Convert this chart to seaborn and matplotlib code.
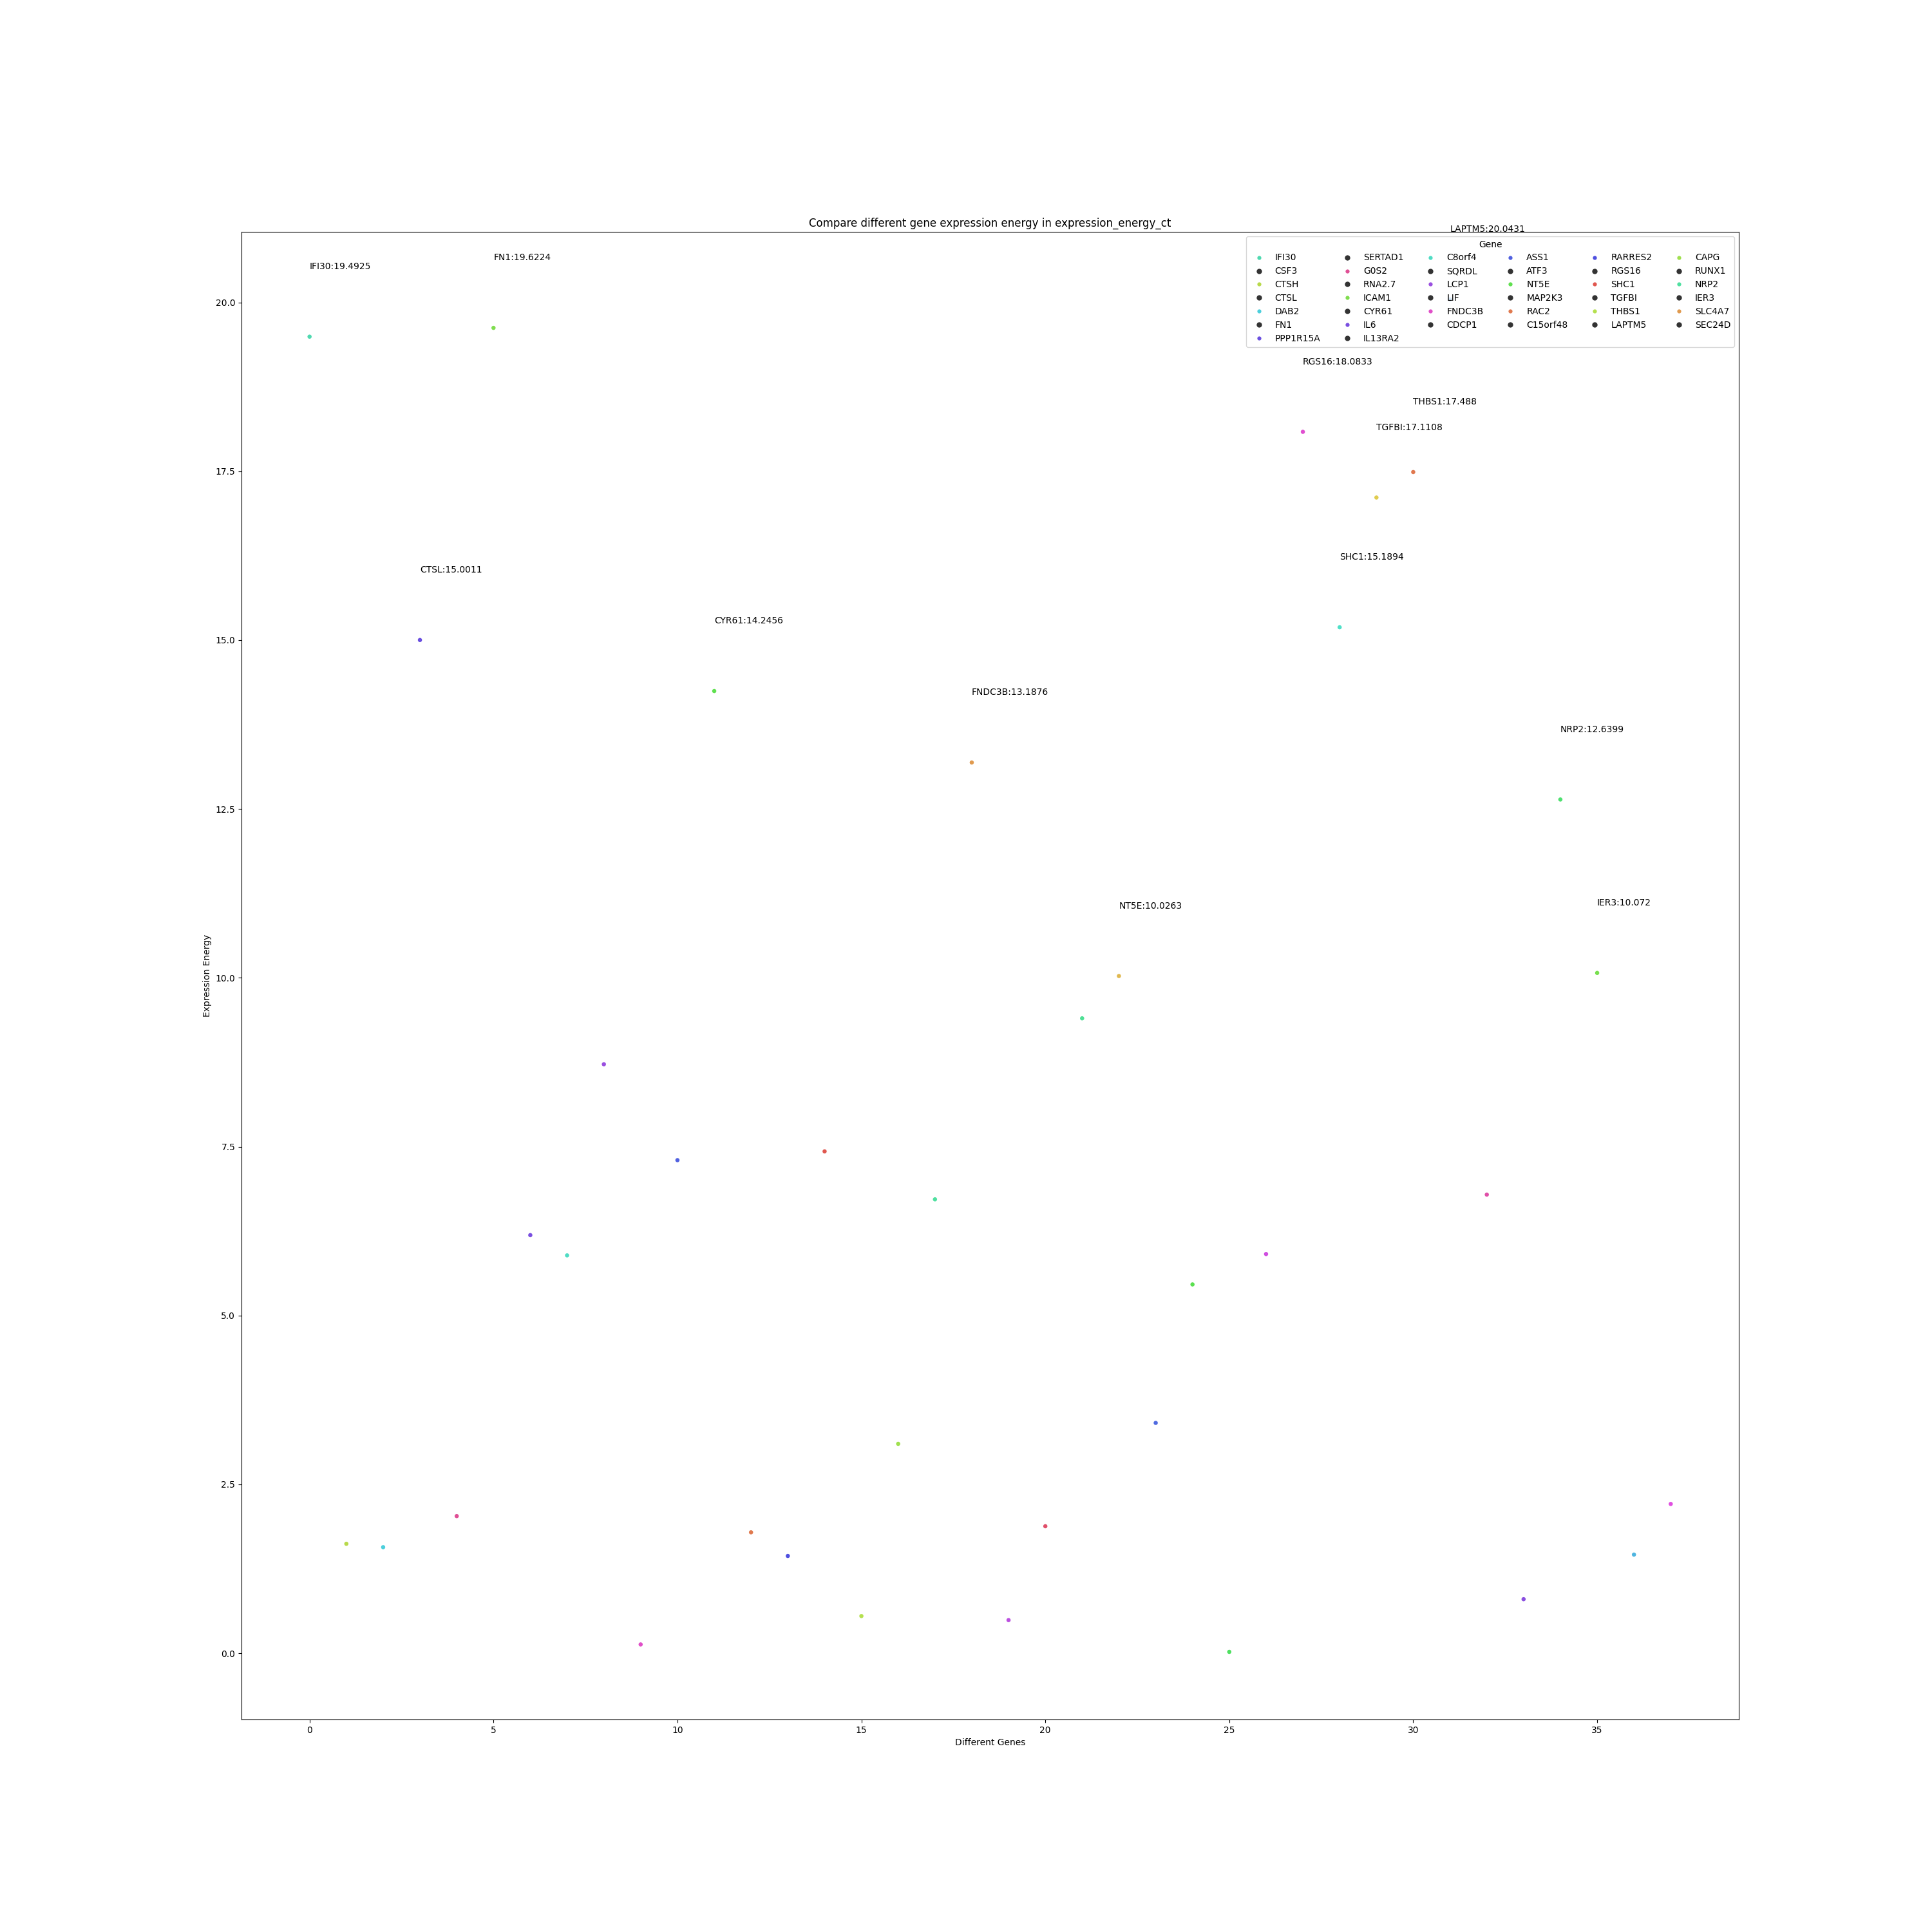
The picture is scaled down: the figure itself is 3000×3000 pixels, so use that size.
import numpy as np
import pandas as pd
import matplotlib
matplotlib.use('Agg')
import matplotlib.pyplot as plt
from matplotlib.lines import Line2D
import seaborn as sns

# gene names in plotting order (x = 0..37)
genes = ['IFI30', 'CSF3', 'CTSH', 'CTSL', 'DAB2', 'FN1', 'PPP1R15A',
         'SERTAD1', 'G0S2', 'RNA2.7', 'ICAM1', 'CYR61', 'IL6', 'IL13RA2',
         'C8orf4', 'SQRDL', 'LCP1', 'LIF', 'FNDC3B', 'CDCP1',
         'ASS1', 'ATF3', 'NT5E', 'MAP2K3', 'RAC2', 'C15orf48',
         'RARRES2', 'RGS16', 'SHC1', 'TGFBI', 'THBS1', 'LAPTM5',
         'CAPG', 'RUNX1', 'NRP2', 'IER3', 'SLC4A7', 'SEC24D']

# expression energy
energy = [19.4925, 1.62, 1.57, 15.0011, 2.03, 19.6224, 6.19,
          5.89, 8.72, 0.13, 7.30, 14.2456, 1.79, 1.44,
          7.43, 0.55, 3.10, 6.72, 13.1876, 0.49,
          1.88, 9.40, 10.0263, 3.41, 5.46, 0.02,
          5.91, 18.0833, 15.1894, 17.1108, 17.488, 20.0431,
          6.79, 0.80, 12.6399, 10.072, 1.46, 2.21]

# one colour per point
point_colors = ['#4fd9b0', '#b8d94a', '#4ccfdc', '#6a4fe0', '#e04f95', '#80dd4f', '#7a4fe0',
                '#4fdcc4', '#9a4fe0', '#e04fc8', '#5060e0', '#5fe04f', '#e07a4f', '#4f50e0',
                '#e0574f', '#b5e04f', '#a0e04f', '#4fe0a0', '#e09a4f', '#bb4fe0',
                '#e04f6a', '#4fe095', '#e0b84f', '#4f6ae0', '#5ae04f', '#4fe060',
                '#d04fe0', '#e04fd0', '#4fe0c8', '#e0cc4f', '#e0784f', '#4f9ae0',
                '#e04fa8', '#8a4fe0', '#4fe070', '#78e04f', '#4fb5e0', '#e04fe0']

data = pd.DataFrame({'Gene': genes, 'Energy': energy})
data['idx'] = np.arange(len(data))

plt.figure(figsize=(30, 30), dpi=100)
ax = sns.scatterplot(x='idx', y='Energy', hue='Gene', data=data,
                     palette=dict(zip(genes, point_colors)), s=22,
                     linewidth=0, legend=False)

# annotate the high ones
for i, row in data.iterrows():
    if row['Energy'] > 10:
        ax.text(row['idx'], row['Energy'] + 1, f"{row['Gene']}:{row['Energy']}")

# legend: handles alternate between a point colour and a dark marker
handles = []
for k in range(len(genes)):
    if k % 2 == 0:
        handles.append(Line2D([], [], ls='', marker='o', markersize=4.5,
                              markerfacecolor=point_colors[k // 2], markeredgewidth=0))
    else:
        handles.append(Line2D([], [], ls='', marker='o', markersize=6,
                              markerfacecolor='#333333', markeredgewidth=0))
ax.legend(handles, genes, title='Gene', ncol=6, loc='upper right')

plt.title('Compare different gene expression energy in expression_energy_ct')
plt.xlabel('Different Genes')
plt.ylabel('Expression Energy')
plt.savefig('out.png', dpi=100)
